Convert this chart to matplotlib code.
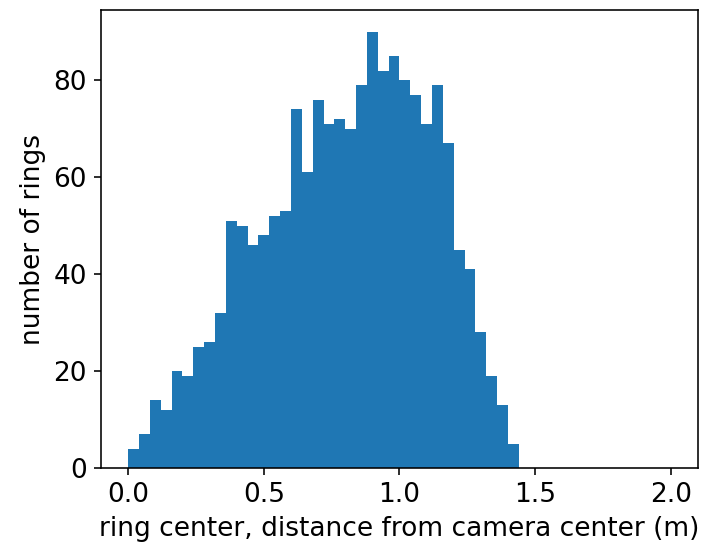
import numpy as np
from matplotlib import pyplot as plt

# Contagens por bin (largura 0.04 m, de 0 a 2 m)
contagens = [4, 7, 14, 12, 20, 19, 25, 26, 32, 51, 50, 46, 48, 52, 53, 74, 61, 76,
             71, 72, 70, 79, 90, 82, 85, 80, 77, 71, 79, 67, 45, 41, 28, 19, 13, 5,
             0, 0, 0, 0, 0, 0, 0, 0, 0, 0, 0, 0, 0, 0]
bordas = np.linspace(0, 2, 51)
centros = (bordas[:-1] + bordas[1:]) / 2

plt.rcParams['font.size'] = 13.2

fig = plt.figure(figsize=(705 / 144, 550 / 144), dpi=144)
ax = fig.add_axes([0.1433, 0.149, 0.8467, 0.8328])
ax.hist(centros, bins=bordas, weights=contagens, color='#1f77b4')
ax.set_xticks([0.0, 0.5, 1.0, 1.5, 2.0])
ax.set_xlabel('ring center, distance from camera center (m)')
ax.set_ylabel('number of rings')

fig.savefig('out.png', dpi=144)
